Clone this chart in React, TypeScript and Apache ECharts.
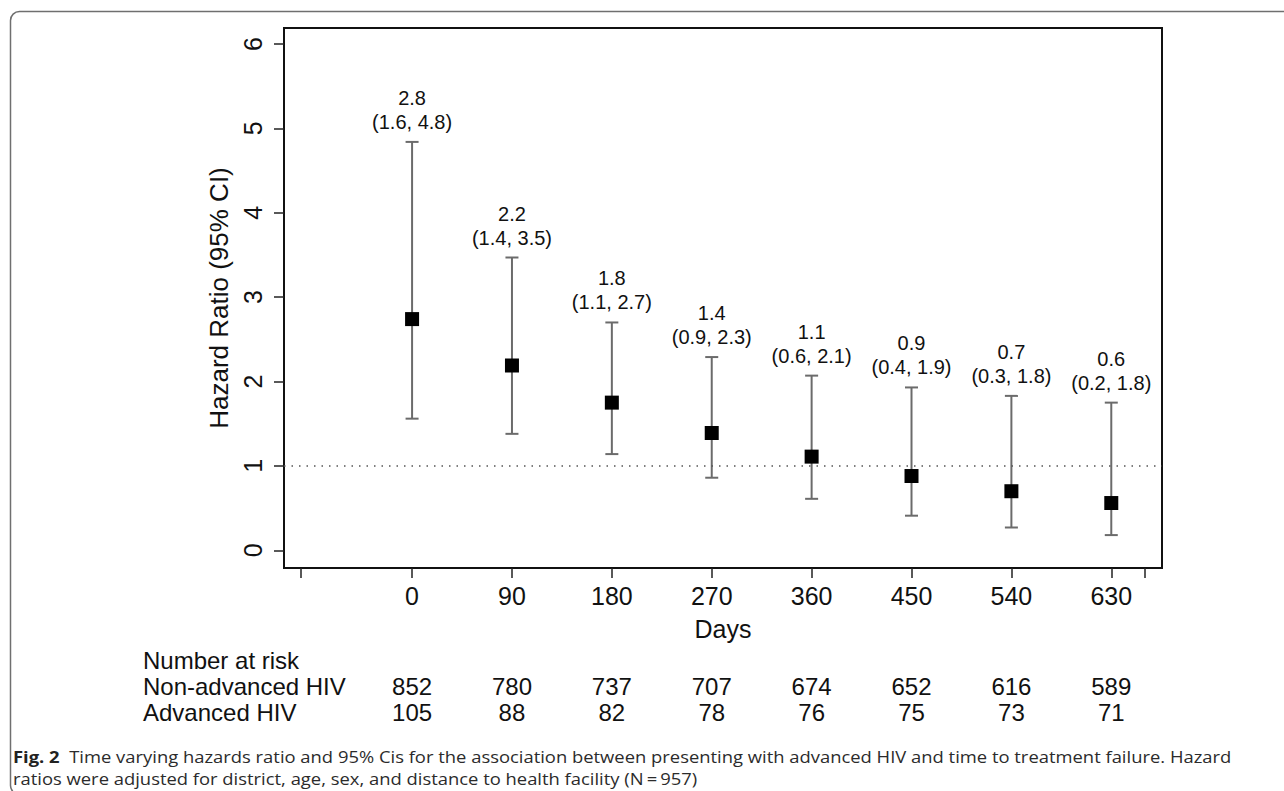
import React, { useEffect, useRef } from "react";
import * as echarts from "echarts";

// ---- data ----
const days = [0, 90, 180, 270, 360, 450, 540, 630];
const hazardRatio = [2.74, 2.19, 1.75, 1.39, 1.11, 0.88, 0.7, 0.56];
const ciLower = [1.56, 1.38, 1.14, 0.86, 0.61, 0.41, 0.27, 0.18];
const ciUpper = [4.84, 3.47, 2.7, 2.29, 2.07, 1.93, 1.83, 1.75];
const hrShown = ["2.8", "2.2", "1.8", "1.4", "1.1", "0.9", "0.7", "0.6"];
const loShown = ["1.6", "1.4", "1.1", "0.9", "0.6", "0.4", "0.3", "0.2"];
const hiShown = ["4.8", "3.5", "2.7", "2.3", "2.1", "1.9", "1.8", "1.8"];
const atRiskNonAdvanced = [852, 780, 737, 707, 674, 652, 616, 589];
const atRiskAdvanced = [105, 88, 82, 78, 76, 75, 73, 71];
const xTicks = [-100, 0, 90, 180, 270, 360, 450, 540, 630, 660];
const yTicks = [0, 1, 2, 3, 4, 5, 6];
const referenceLine = 1;
const xLabel = "Days";
const yLabel = "Hazard Ratio (95% CI)";
const riskTitle = "Number at risk";
const riskRows = ["Non-advanced HIV", "Advanced HIV"];
const captionBold = "Fig. 2";
const captionLine1 =
  "Time varying hazards ratio and 95% Cis for the association between presenting with advanced HIV and time to treatment failure. Hazard";
const captionLine2 =
  "ratios were adjusted for district, age, sex, and distance to health facility (N\u2009=\u2009957)";

const FONT = "'Liberation Sans', Arial, Helvetica, sans-serif";
const CAP_FONT = "'Open Sans', 'Noto Sans', sans-serif";
const INK = "#111";
const ROW_Y = [660, 686, 712];

export default function App() {
  const ref = useRef<HTMLDivElement>(null);

  useEffect(() => {
    if (!ref.current) return;
    const chart = echarts.init(ref.current, undefined, { renderer: "svg" });

    const tableText = { fontSize: 24, lineHeight: 24, fontFamily: FONT, fill: INK, verticalAlign: "middle" };

    const option: any = {
      animation: false,
      backgroundColor: "#fff",
      grid: {
        left: 284,
        right: 122,
        top: 28,
        bottom: 223,
        show: true,
        borderColor: INK,
        borderWidth: 2,
        backgroundColor: "transparent",
      },
      xAxis: {
        type: "value",
        min: -115.4,
        max: 675.7,
        name: xLabel,
        nameLocation: "middle",
        nameGap: 48,
        nameTextStyle: { fontSize: 25, color: INK, fontFamily: FONT },
        axisLine: { show: true, onZero: false, lineStyle: { color: INK, width: 2 } },
        axisTick: {
          show: true,
          inside: false,
          length: 10,
          customValues: xTicks,
          lineStyle: { color: "#222", width: 1.5 },
        },
        axisLabel: {
          customValues: days,
          fontSize: 25,
          color: INK,
          fontFamily: FONT,
          margin: 15,
        },
        splitLine: { show: false },
      },
      yAxis: {
        type: "value",
        min: -0.21,
        max: 6.19,
        name: yLabel,
        nameLocation: "middle",
        nameGap: 50,
        nameTextStyle: { fontSize: 26, color: INK, fontFamily: FONT },
        axisLine: { show: true, onZero: false, lineStyle: { color: INK, width: 2 } },
        axisTick: {
          show: true,
          inside: false,
          length: 10,
          customValues: yTicks,
          lineStyle: { color: "#222", width: 1.5 },
        },
        axisLabel: {
          customValues: yTicks,
          rotate: 90,
          fontSize: 25,
          color: INK,
          fontFamily: FONT,
          margin: 19,
        },
        splitLine: { show: false },
      },
      series: [
        {
          type: "custom",
          name: "ci",
          z: 2,
          data: days.map((d, i) => [d, hazardRatio[i], ciLower[i], ciUpper[i]]),
          renderItem: (params: any, api: any) => {
            const i = params.dataIndex;
            const x = api.value(0);
            const hi = api.coord([x, api.value(3)]);
            const lo = api.coord([x, api.value(2)]);
            const half = 6.5;
            const stroke = { stroke: "#6b6b6b", lineWidth: 2 };
            return {
              type: "group",
              children: [
                { type: "line", shape: { x1: hi[0], y1: hi[1], x2: lo[0], y2: lo[1] }, style: stroke },
                { type: "line", shape: { x1: hi[0] - half, y1: hi[1], x2: hi[0] + half, y2: hi[1] }, style: stroke },
                { type: "line", shape: { x1: lo[0] - half, y1: lo[1], x2: lo[0] + half, y2: lo[1] }, style: stroke },
                {
                  type: "text",
                  x: hi[0],
                  y: hi[1] - 8,
                  style: {
                    text: `${hrShown[i]}\n(${loShown[i]}, ${hiShown[i]})`,
                    align: "center",
                    verticalAlign: "bottom",
                    fontSize: 20,
                    lineHeight: 24,
                    fontFamily: FONT,
                    fill: INK,
                  },
                },
              ],
            };
          },
        },
        {
          type: "scatter",
          name: "HR",
          z: 3,
          symbol: "rect",
          symbolSize: 14,
          itemStyle: { color: "#000", opacity: 1 },
          data: days.map((d, i) => [d, hazardRatio[i]]),
          markLine: {
            silent: true,
            symbol: "none",
            label: { show: false },
            lineStyle: { color: "#555", width: 1.5, type: [1.5, 6] },
            data: [{ yAxis: referenceLine }],
          },
        },
        {
          type: "custom",
          name: "risk",
          data: days.map((d, i) => [d, 0, atRiskNonAdvanced[i], atRiskAdvanced[i]]),
          renderItem: (params: any, api: any) => {
            const x = api.coord([api.value(0), 0])[0];
            return {
              type: "group",
              children: [
                { type: "text", x, y: ROW_Y[1], style: { ...tableText, align: "center", text: String(api.value(2)) } },
                { type: "text", x, y: ROW_Y[2], style: { ...tableText, align: "center", text: String(api.value(3)) } },
              ],
            };
          },
        },
      ],
      graphic: [
        {
          type: "rect",
          shape: { x: 10.5, y: 11.5, width: 1400, height: 783, r: 9 },
          style: { fill: "none", stroke: "#6f6f6f", lineWidth: 1.5 },
          silent: true,
        },
        { type: "text", x: 143, y: ROW_Y[0], style: { ...tableText, text: riskTitle } },
        { type: "text", x: 143, y: ROW_Y[1], style: { ...tableText, text: riskRows[0] } },
        { type: "text", x: 143, y: ROW_Y[2], style: { ...tableText, text: riskRows[1] } },
        {
          type: "text",
          x: 13,
          y: 767.75,
          scaleX: 1.15,
          style: {
            text: `{b|${captionBold}}  ${captionLine1}\n${captionLine2}`,
            fontSize: 16,
            lineHeight: 22.5,
            fontFamily: CAP_FONT,
            fill: "#2b2b2b",
            verticalAlign: "middle",
            rich: { b: { fontWeight: "bold", fontSize: 16, lineHeight: 22.5, fontFamily: CAP_FONT, fill: "#222" } },
          },
        },
      ],
    };

    chart.setOption(option);
    return () => chart.dispose();
  }, []);

  return (
    <div
      ref={ref}
      style={{ position: "fixed", left: 0, top: 0, width: 1284, height: 791, background: "#fff" }}
    />
  );
}
